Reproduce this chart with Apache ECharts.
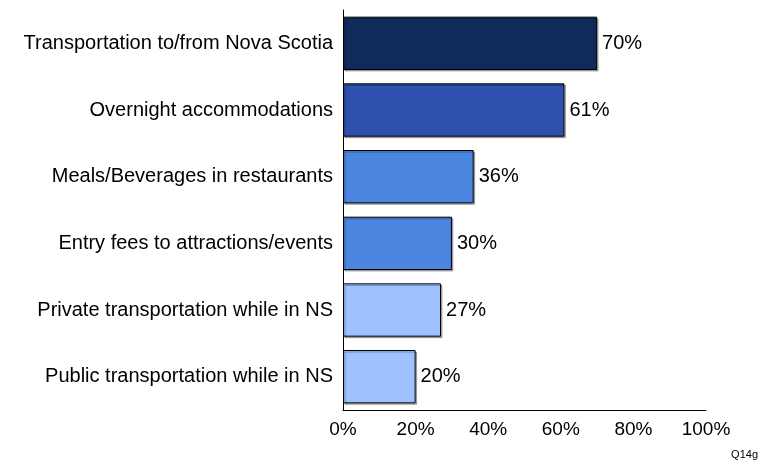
<!DOCTYPE html>
<html lang="en">
<head>
	<meta charset="UTF-8">
	<title></title>
	<script src="https://cdn.jsdelivr.net/npm/echarts@6/dist/echarts.min.js"></script>
	<style>
		body{ margin:0; background:#fff; }
	</style>
</head>
<body>
	<div id="main" style="width: 772px;height:466px;"></div>
</body>
</html>

<script type="text/javascript">
var categories = ['Transportation to/from Nova Scotia', 'Overnight accommodations', 'Meals/Beverages in restaurants', 'Entry fees to attractions/events', 'Private transportation while in NS', 'Public transportation while in NS'];
var values = [70, 61, 36, 30, 27, 20];
var barColors = ['#112a5c', '#2f50ad', '#4a86e0', '#4a86e0', '#9ec2ff', '#9ec2ff'];
var ticks = [0, 20, 40, 60, 80, 100];

var mychart = echarts.init(document.getElementById("main"));

var option = {
	animation: false,
	textStyle: { fontFamily: 'Liberation Sans, Arial, sans-serif' },
	grid: { left: 343, right: 66, top: 10, bottom: 56 },
	graphic: [{
		type: 'text', right: 14, bottom: 6,
		style: { text: 'Q14g', fontSize: 11, fill: '#000', fontFamily: 'Liberation Sans, Arial' }
	}],
	xAxis: {
		type: 'value', min: ticks[0], max: ticks[ticks.length - 1], interval: 20,
		axisLine: { show: true, lineStyle: { color: '#000', width: 1 } },
		axisTick: { show: false },
		splitLine: { show: false },
		axisLabel: { color: '#000', fontSize: 19, margin: 10, formatter: '{value}%' }
	},
	yAxis: {
		type: 'category', inverse: true, data: categories,
		axisLine: { show: true, lineStyle: { color: '#000', width: 1 } },
		axisTick: { show: false },
		axisLabel: { color: '#000', fontSize: 20, margin: 10 }
	},
	series: [{
		type: 'bar',
		barCategoryGap: '20%',
		data: values.map(function (v, i) {
			return { value: v, itemStyle: { color: barColors[i] } };
		}),
		itemStyle: {
			borderColor: '#000', borderWidth: 1,
			shadowColor: 'rgba(0,0,0,0.3)', shadowOffsetX: 1.5, shadowOffsetY: 1.5, shadowBlur: 0
		},
		label: { show: true, position: 'right', distance: 5, color: '#000', fontSize: 20, formatter: '{c}%' }
	}]
};
mychart.setOption(option);
</script>
